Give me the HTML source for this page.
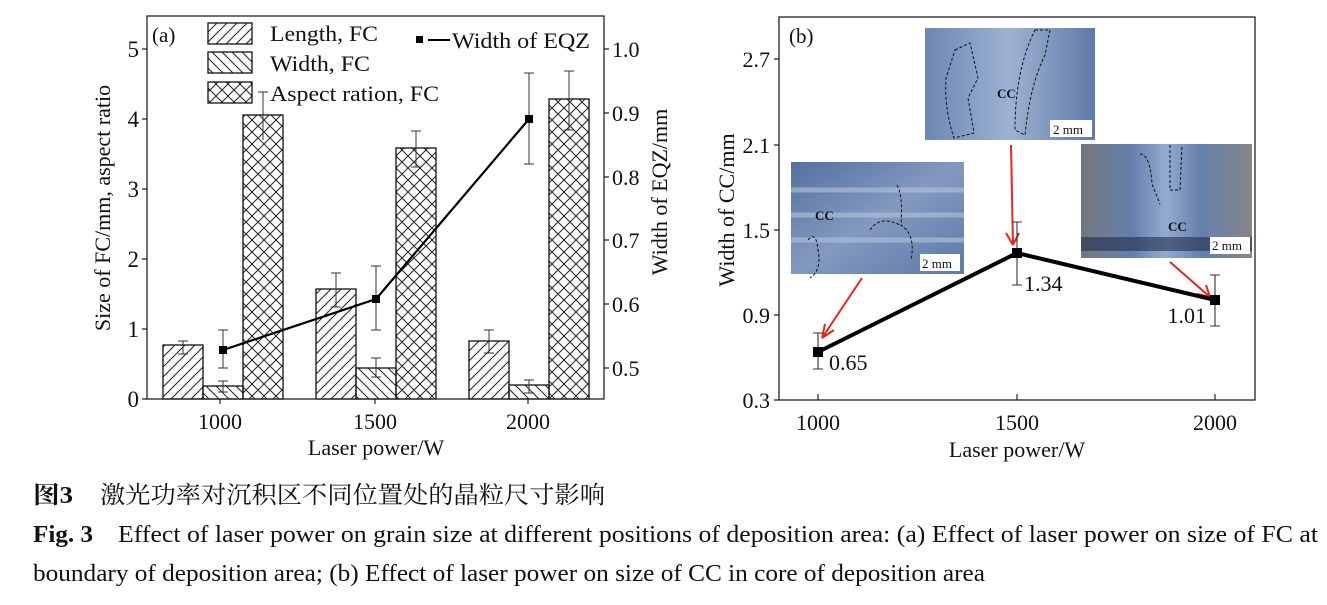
<!DOCTYPE html>
<html><head><meta charset="utf-8"><style>
html,body{margin:0;padding:0;background:#fff;}
svg{display:block;}
text{font-family:"Liberation Serif","Noto Serif CJK SC",serif;fill:#111;}
</style></head><body>
<svg width="1327" height="605" viewBox="0 0 1327 605" xmlns="http://www.w3.org/2000/svg">
<defs>
<pattern id="fw" patternUnits="userSpaceOnUse" width="10" height="10"><path d="M-2,12 L12,-2 M-2,2 L2,-2 M8,12 L12,8" stroke="#222" stroke-width="1"/></pattern>
<pattern id="bw" patternUnits="userSpaceOnUse" width="10" height="10"><path d="M-2,-2 L12,12 M-2,8 L2,12 M8,-2 L12,2" stroke="#222" stroke-width="1"/></pattern>
<pattern id="xh" patternUnits="userSpaceOnUse" width="12" height="12"><path d="M-2,14 L14,-2 M-2,-2 L14,14 M-2,2 L2,-2 M10,14 L14,10 M-2,10 L2,14 M10,-2 L14,2" stroke="#222" stroke-width="1"/></pattern>
<linearGradient id="p1" x1="0" y1="0" x2="1" y2="1"><stop offset="0" stop-color="#5470a0"/><stop offset="0.5" stop-color="#8399c0"/><stop offset="1" stop-color="#5d79a8"/></linearGradient>
<linearGradient id="p2" x1="0" y1="0" x2="1" y2="0"><stop offset="0" stop-color="#6d87b4"/><stop offset="0.5" stop-color="#9db2d2"/><stop offset="1" stop-color="#5f7aa9"/></linearGradient>
<linearGradient id="p3" x1="0" y1="0" x2="1" y2="0"><stop offset="0" stop-color="#75777e"/><stop offset="0.3" stop-color="#6580ad"/><stop offset="0.5" stop-color="#94abcf"/><stop offset="0.7" stop-color="#6580ad"/><stop offset="1" stop-color="#85858a"/></linearGradient>
</defs>

<!-- LEFT CHART -->
<g stroke="#111" stroke-width="1.3">
<rect x="163" y="345" width="40" height="54" fill="url(#fw)"/>
<rect x="203" y="386" width="40" height="13" fill="url(#bw)"/>
<rect x="243" y="115" width="40" height="284" fill="url(#xh)"/>
<rect x="316" y="289" width="40" height="110" fill="url(#fw)"/>
<rect x="356" y="368" width="40" height="31" fill="url(#bw)"/>
<rect x="396" y="148" width="40" height="251" fill="url(#xh)"/>
<rect x="469" y="341" width="40" height="58" fill="url(#fw)"/>
<rect x="509" y="385" width="40" height="14" fill="url(#bw)"/>
<rect x="549" y="99" width="40" height="300" fill="url(#xh)"/>
</g>
<g stroke="#333" stroke-width="1" fill="none">
<path d="M183,341V354M178,341H188M178,354H188"/>
<path d="M223,381V392M218,381H228M218,392H228"/>
<path d="M263,92V140M258,92H268"/>
<path d="M336,273V307M331,273H341M331,307H341"/>
<path d="M376,358V377M371,358H381M371,377H381"/>
<path d="M416,131V167M411,131H421M411,167H421"/>
<path d="M489,330V353M484,330H494M484,353H494"/>
<path d="M529,380V393M524,380H534M524,393H534"/>
<path d="M569,71V130M564,71H574M564,130H574"/>
<path d="M223,330V368M218,330H228M218,368H228"/>
<path d="M376,266V330M371,266H381M371,330H381"/>
<path d="M529,73V164M524,73H534M524,164H534"/>
</g>
<polyline points="223,350 376,299 529,119" fill="none" stroke="#000" stroke-width="2.2"/>
<rect x="219" y="346" width="8" height="8" fill="#000"/>
<rect x="372" y="295" width="8" height="8" fill="#000"/>
<rect x="525" y="115" width="8" height="8" fill="#000"/>
<rect x="147" y="16" width="457" height="383" fill="none" stroke="#222" stroke-width="1.3"/>
<g stroke="#222" stroke-width="1.2">
<path d="M147,399h-5M147,329h-5M147,259h-5M147,189h-5M147,119h-5M147,49h-5"/>
<path d="M604,368h5M604,304h5M604,240h5M604,177h5M604,113h5M604,49h5"/>
<path d="M220,399v5M375,399v5M528,399v5"/>
</g>
<g font-size="23" text-anchor="end">
<text x="139" y="407">0</text><text x="139" y="337">1</text><text x="139" y="267">2</text>
<text x="139" y="197">3</text><text x="139" y="127">4</text><text x="139" y="57">5</text>
</g>
<g font-size="22">
<text x="612" y="376">0.5</text><text x="612" y="312">0.6</text><text x="612" y="248">0.7</text>
<text x="612" y="185">0.8</text><text x="612" y="121">0.9</text><text x="612" y="57">1.0</text>
</g>
<g font-size="22" text-anchor="middle">
<text x="220" y="429">1000</text><text x="375" y="429">1500</text><text x="528" y="429">2000</text>
<text x="376" y="455">Laser power/W</text>
<text transform="translate(110,208) rotate(-90)">Size of FC/mm, aspect ratio</text>
<text transform="translate(667,192) rotate(-90)">Width of EQZ/mm</text>
</g>
<text x="152" y="42" font-size="21">(a)</text>
<g stroke="#111" stroke-width="1.3">
<rect x="208" y="23" width="44" height="21" fill="url(#fw)"/>
<rect x="208" y="52" width="44" height="21" fill="url(#bw)"/>
<rect x="208" y="82" width="44" height="21" fill="url(#xh)"/>
</g>
<g font-size="22.5">
<text x="270" y="41" textLength="108" lengthAdjust="spacingAndGlyphs">Length, FC</text>
<text x="270" y="71" textLength="100" lengthAdjust="spacingAndGlyphs">Width, FC</text>
<text x="270" y="101" textLength="169" lengthAdjust="spacingAndGlyphs">Aspect ration, FC</text>
<text x="452" y="48" textLength="138" lengthAdjust="spacingAndGlyphs">Width of EQZ</text>
</g>
<rect x="416" y="36" width="7" height="7" fill="#000"/>
<path d="M428,40H450" stroke="#000" stroke-width="2"/>

<!-- RIGHT CHART -->
<rect x="779" y="17" width="476" height="383" fill="none" stroke="#222" stroke-width="1.3"/>
<g stroke="#222" stroke-width="1.2">
<path d="M779,400h-5M779,315h-5M779,230h-5M779,145h-5M779,59h-5"/>
<path d="M818,400v-6M1017,400v-6M1215,400v-6"/>
</g>
<g font-size="22" text-anchor="end">
<text x="770" y="408">0.3</text><text x="770" y="323">0.9</text><text x="770" y="238">1.5</text>
<text x="770" y="153">2.1</text><text x="770" y="67">2.7</text>
</g>
<g font-size="22" text-anchor="middle">
<text x="818" y="430">1000</text><text x="1017" y="430">1500</text><text x="1215" y="430">2000</text>
<text x="1017" y="457">Laser power/W</text>
<text transform="translate(734,210) rotate(-90)">Width of CC/mm</text>
</g>
<text x="789" y="43" font-size="21">(b)</text>

<rect x="791" y="162" width="173" height="112" fill="url(#p1)"/>
<path d="M791,190H964M791,215H964M791,240H964" stroke="#b5c4dc" stroke-width="5" opacity="0.6"/>
<path d="M808,240 q8,-10 10,10 q4,20 -8,28 M897,185 q6,10 4,40 q15,10 10,35 M870,230 q10,-15 30,-5" fill="none" stroke="#111" stroke-dasharray="3,2"/>
<text x="815" y="220" font-size="13" font-weight="bold">CC</text>
<rect x="920" y="254" width="40" height="17" fill="#fff"/>
<text x="922" y="268" font-size="13">2 mm</text>
<rect x="925" y="28" width="170" height="112" fill="url(#p2)"/>
<path d="M955,50 l15,-7 l8,35 l-10,20 l6,35 l-20,5 q-10,-30 -8,-60z M1035,30 h15 l-5,25 q-15,30 -20,80 l-10,-5 q0,-60 20,-100" fill="none" stroke="#111" stroke-dasharray="3,2"/>
<text x="997" y="98" font-size="13" font-weight="bold">CC</text>
<rect x="1050" y="120" width="42" height="17" fill="#fff"/>
<text x="1053" y="134" font-size="13">2 mm</text>
<rect x="1081" y="144" width="171" height="114" fill="url(#p3)"/>
<path d="M1081,244 H1252" stroke="#22304f" stroke-width="14" opacity="0.6"/>
<path d="M1140,154 q10,0 12,30 l8,20 M1170,145 v45 h10 l2,-45" fill="none" stroke="#111" stroke-dasharray="3,2"/>
<text x="1168" y="231" font-size="13" font-weight="bold">CC</text>
<rect x="1210" y="237" width="40" height="17" fill="#fff"/>
<text x="1212" y="250" font-size="13">2 mm</text>

<g stroke="#e8261e" stroke-width="2" fill="none">
<path d="M862,278L822,338M822,338l3,-14M822,338l12,-8"/>
<path d="M1011,145L1013,245M1013,245l-7,-12M1013,245l6,-12"/>
<path d="M1170,262L1210,297M1210,297l-13,-3M1210,297l-4,-12"/>
</g>

<g stroke="#333" stroke-width="1.1">
<path d="M818,333V369M813,333H823M813,369H823"/>
<path d="M1017,222V285M1012,222H1022M1012,285H1022"/>
<path d="M1215,275V326M1210,275H1220M1210,326H1220"/>
</g>
<polyline points="818,352 1017,253 1215,300" fill="none" stroke="#000" stroke-width="4"/>
<rect x="813" y="347" width="10" height="10" fill="#000"/>
<rect x="1012" y="248" width="10" height="10" fill="#000"/>
<rect x="1210" y="295" width="10" height="10" fill="#000"/>
<g font-size="22">
<text x="829" y="370">0.65</text>
<text x="1024" y="291">1.34</text>
<text x="1206" y="323" text-anchor="end">1.01</text>
</g>

<!-- caption -->
<text x="33" y="503" font-size="24" font-weight="bold" textLength="40" lengthAdjust="spacingAndGlyphs">图3</text>
<text x="100" y="503" font-size="24" textLength="505" lengthAdjust="spacingAndGlyphs">激光功率对沉积区不同位置处的晶粒尺寸影响</text>
<text x="33" y="542" font-size="24" font-weight="bold" textLength="60" lengthAdjust="spacingAndGlyphs">Fig. 3</text>
<text x="118" y="542" font-size="24" textLength="1200" lengthAdjust="spacingAndGlyphs">Effect of laser power on grain size at different positions of deposition area: (a) Effect of laser power on size of FC at</text>
<text x="33" y="581" font-size="24" textLength="952" lengthAdjust="spacingAndGlyphs">boundary of deposition area; (b) Effect of laser power on size of CC in core of deposition area</text>
</svg>
</body></html>
